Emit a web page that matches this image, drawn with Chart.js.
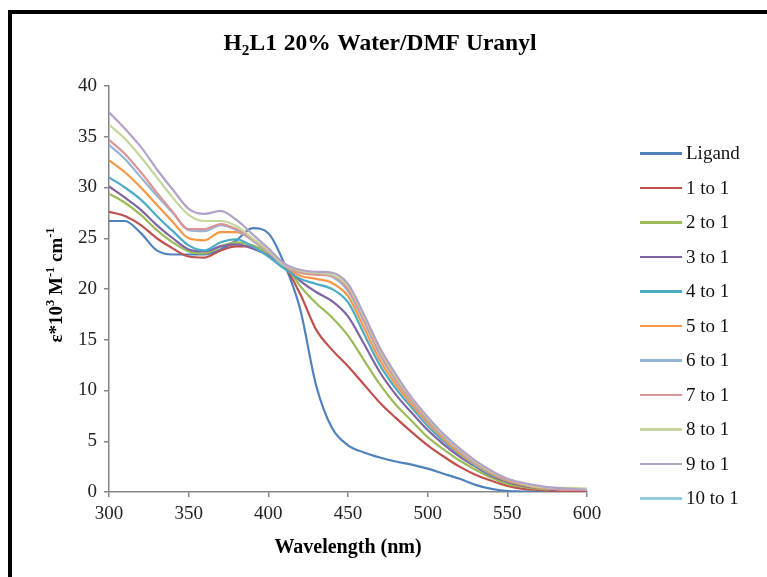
<!DOCTYPE html>
<html>
<head>
  <meta charset="UTF-8">
  <title>H2L1 20% Water/DMF Uranyl</title>
  <script src="https://cdn.jsdelivr.net/npm/chart.js"></script>
  <style>
    body { margin: 0; background: #fff; font-family: "Liberation Serif", "Times New Roman", serif; }
    #wrap { position: relative; width: 767px; height: 577px; overflow: hidden; }
    #frame { position: absolute; left: 8px; top: 10px; right: -10px; bottom: -10px;
             border-left: 4px solid #000; border-top: 4px solid #000; }
    #chart { position: absolute; left: 0; top: 0; }
    .ttl { position: absolute; font-weight: bold; color: #000; white-space: nowrap; }
    #mainTitle { left: 380px; top: 44px; transform: translate(-50%, -50%); font-size: 23.5px; word-spacing: 1px; }
    #xTitle { left: 348px; top: 546px; transform: translate(-50%, -50%); font-size: 20px; }
    #yTitle { left: 55px; top: 285px; transform: translate(-50%, -50%) rotate(-90deg); font-size: 19px; }
    sub, sup { font-size: 65%; }
    #legend .row { position: absolute; left: 640px; height: 24px; }
    #legend .swatch { position: absolute; left: 0; top: 11px; width: 42px; height: 2.5px; }
    #legend .lbl { position: absolute; left: 46px; top: 0; font-size: 19px; line-height: 24px; color: #111; white-space: nowrap; }
  </style>
</head>
<body>
<div id="wrap">
  <canvas id="chart" width="767" height="577"></canvas>
  <div id="frame"></div>
  <div class="ttl" id="mainTitle">H<sub>2</sub>L1 20% Water/DMF Uranyl</div>
  <div class="ttl" id="yTitle">&epsilon;*10<sup>3</sup> M<sup>-1</sup> cm<sup>-1</sup></div>
  <div class="ttl" id="xTitle">Wavelength (nm)</div>
  <div id="legend"></div>
</div>

<script>
  // wavelength (nm)
  const wavelengths = [300, 310, 320, 330, 340, 350, 360, 370, 380, 390, 400, 410, 420, 430, 440, 450,
                       460, 470, 480, 490, 500, 510, 520, 530, 540, 550, 560, 570, 580, 590, 600];

  const seriesNames = ['Ligand', '1 to 1', '2 to 1', '3 to 1', '4 to 1', '5 to 1',
                       '6 to 1', '7 to 1', '8 to 1', '9 to 1', '10 to 1'];

  const ligand = [26.7, 26.7, 25.5, 23.8, 23.4, 23.4, 23.4, 23.9, 24.8, 26.0, 25.5, 22.5, 18.0, 10.5, 6.3, 4.6,
                  3.9, 3.4, 3.0, 2.7, 2.3, 1.8, 1.3, 0.7, 0.3, 0.1, 0.05, 0, 0, 0, 0];
  const r1to1 = [27.6, 27.2, 26.3, 25.0, 24.0, 23.2, 23.1, 23.8, 24.2, 24.2, 23.5, 22.3, 19.5, 16.0, 14.0, 12.4,
                 10.6, 8.8, 7.3, 5.9, 4.6, 3.5, 2.5, 1.7, 1.1, 0.6, 0.3, 0.2, 0.1, 0.1, 0.1];
  const r2to1 = [29.4, 28.5, 27.3, 25.8, 24.6, 23.7, 23.5, 24.2, 24.6, 24.3, 23.5, 22.5, 20.3, 18.6, 17.2, 15.4,
                 13.0, 10.6, 8.6, 7.0, 5.4, 4.2, 3.1, 2.2, 1.4, 0.8, 0.5, 0.3, 0.2, 0.3, 0.3];
  const r3to1 = [30.1, 29.0, 27.8, 26.3, 25.0, 23.9, 23.7, 24.2, 24.4, 24.0, 23.3, 22.3, 20.8, 19.7, 18.8, 17.3,
                 14.6, 11.8, 9.6, 7.8, 6.1, 4.7, 3.5, 2.5, 1.6, 1.0, 0.6, 0.4, 0.2, 0.2, 0.2];
  const r4to1 = [31.0, 30.0, 28.8, 27.2, 25.7, 24.3, 23.8, 24.6, 24.9, 24.2, 23.2, 22.0, 21.0, 20.5, 20.0, 18.7,
                 15.6, 12.5, 10.2, 8.3, 6.5, 5.0, 3.7, 2.6, 1.7, 1.1, 0.7, 0.4, 0.3, 0.2, 0.2];
  const r5to1 = [32.7, 31.5, 30.0, 28.3, 26.6, 25.0, 24.8, 25.6, 25.6, 24.8, 23.6, 22.3, 21.3, 21.0, 20.6, 19.3,
                 16.2, 13.0, 10.6, 8.6, 6.8, 5.2, 3.8, 2.7, 1.8, 1.1, 0.7, 0.4, 0.3, 0.2, 0.2];
  const r6to1 = [34.2, 32.8, 31.0, 29.2, 27.5, 25.8, 25.7, 26.3, 25.8, 24.8, 23.6, 22.3, 21.6, 21.5, 21.2, 19.8,
                 16.8, 13.5, 11.0, 8.9, 7.0, 5.4, 4.0, 2.8, 1.9, 1.2, 0.8, 0.5, 0.3, 0.2, 0.2];
  const r7to1 = [34.7, 33.3, 31.5, 29.5, 27.6, 25.9, 25.9, 26.4, 25.9, 24.9, 23.7, 22.4, 21.6, 21.4, 21.3, 20.0,
                 17.0, 13.7, 11.1, 9.0, 7.1, 5.5, 4.1, 2.9, 1.9, 1.2, 0.8, 0.5, 0.3, 0.2, 0.2];
  const r8to1 = [36.2, 34.8, 33.0, 31.0, 29.0, 27.3, 26.7, 26.7, 26.2, 25.0, 23.8, 22.4, 21.8, 21.6, 21.4, 20.3,
                 17.3, 14.0, 11.4, 9.2, 7.3, 5.6, 4.2, 3.0, 2.0, 1.3, 0.8, 0.5, 0.4, 0.4, 0.3];
  const r9to1 = [37.4, 35.8, 34.0, 31.8, 29.8, 27.9, 27.4, 27.7, 26.8, 25.4, 24.0, 22.5, 21.9, 21.7, 21.6, 20.5,
                 17.5, 14.2, 11.6, 9.3, 7.4, 5.7, 4.3, 3.1, 2.1, 1.3, 0.9, 0.6, 0.4, 0.3, 0.2];
  const r10to1 = []; // no visible trace in the chart

  const seriesData = [ligand, r1to1, r2to1, r3to1, r4to1, r5to1, r6to1, r7to1, r8to1, r9to1, r10to1];
  const seriesColors = ['#4F81BD', '#C0504D', '#9BBB59', '#8064A2', '#4BACC6', '#F79646',
                        '#95B3D7', '#D99694', '#C3D69B', '#B3A2C7', '#93CDDD'];

  const yTicks = [0, 5, 10, 15, 20, 25, 30, 35, 40];
  const xTicks = [300, 350, 400, 450, 500, 550, 600];

  const axisColor = '#868686';
  const tickFont = { family: '"Liberation Serif", "Times New Roman", serif', size: 19 };

  const datasets = seriesNames.map((name, i) => ({
    label: name,
    data: seriesData[i].map((v, j) => ({ x: wavelengths[j], y: v })),
    borderColor: seriesColors[i],
    backgroundColor: seriesColors[i],
    borderWidth: 2.2,
    pointRadius: 0,
    cubicInterpolationMode: 'monotone',
    fill: false,
    order: seriesNames.length - i   // later series drawn on top, like the original
  }));

  new Chart(document.getElementById('chart'), {
    type: 'line',
    data: { datasets: datasets },
    options: {
      responsive: false,
      animation: false,
      layout: { padding: { left: 0, top: 86, right: 180, bottom: 0 } },
      plugins: { legend: { display: false }, title: { display: false }, tooltip: { enabled: false } },
      scales: {
        x: {
          type: 'linear', min: 300, max: 600,
          afterBuildTicks: s => { s.ticks = xTicks.map(v => ({ value: v })); },
          afterFit: s => { s.height = 85; },
          border: { color: axisColor, width: 1.5 },
          grid: { drawOnChartArea: false, color: axisColor, tickLength: 5, lineWidth: 1.5 },
          ticks: { font: tickFont, color: '#222', padding: 6, maxRotation: 0 }
        },
        y: {
          min: 0, max: 40,
          afterBuildTicks: s => { s.ticks = yTicks.map(v => ({ value: v })); },
          afterFit: s => { s.width = 109; },
          border: { color: axisColor, width: 1.5 },
          grid: { drawOnChartArea: false, color: axisColor, tickLength: 5, lineWidth: 1.5 },
          ticks: { font: tickFont, color: '#222', padding: 7 }
        }
      }
    }
  });

  // legend, drawn as html rows to the right of the plot
  const legend = document.getElementById('legend');
  seriesNames.forEach((name, i) => {
    const row = document.createElement('div');
    row.className = 'row';
    row.style.top = (153 + 34.5 * i - 12) + 'px';
    row.innerHTML = `<span class="swatch" style="background:${seriesColors[i]}"></span><span class="lbl">${name}</span>`;
    legend.appendChild(row);
  });
</script>
</body>
</html>
